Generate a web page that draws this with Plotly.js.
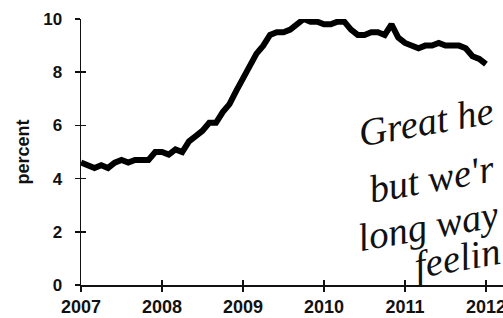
<!DOCTYPE html>
<html><head><meta charset="utf-8">
<script src="https://cdn.plot.ly/plotly-3.0.1.min.js"></script>
<style>html,body{margin:0;padding:0;background:#fff;overflow:hidden}#chart{width:503px;height:318px}</style>
</head><body><div id="chart"></div>
<script>
// Monthly unemployment rate, Jan 2007 - Jan 2012
const rates2007 = [4.6,4.5,4.4,4.5,4.4,4.6,4.7,4.6,4.7,4.7,4.7,5.0];
const rates2008 = [5.0,4.9,5.1,5.0,5.4,5.6,5.8,6.1,6.1,6.5,6.8,7.3];
const rates2009 = [7.8,8.3,8.7,9.0,9.4,9.5,9.5,9.6,9.8,10.0,9.9,9.9];
const rates2010 = [9.8,9.8,9.9,9.9,9.6,9.4,9.4,9.5,9.5,9.4,9.8,9.3];
const rates2011 = [9.1,9.0,8.9,9.0,9.0,9.1,9.0,9.0,9.0,8.9,8.6,8.5];
const rates2012 = [8.3];
const allYears = [2007, 2008, 2009, 2010, 2011, 2012];
const xTicks = [2007, 2008, 2009, 2010, 2011, 2012];
const yTicks = [0, 2, 4, 6, 8, 10];
const noteLines = ["Great he", "but we'r", "long way", "feelin"];

const allRates = [rates2007, rates2008, rates2009, rates2010, rates2011, rates2012];
const xs = [], ys = [];
allRates.forEach((arr, i) => arr.forEach((v, m) => { xs.push(allYears[i] + m / 12); ys.push(v); }));

const tickFont = {family: 'Liberation Sans, Arial, sans-serif', size: 17, color: '#111', weight: 700};
const line = {x: xs, y: ys, mode: 'lines', line: {color: '#000', width: 6}, hoverinfo: 'skip', showlegend: false};
const ghost = {x: xs, y: ys, xaxis: 'x2', yaxis: 'y2', mode: 'lines', line: {color: 'rgba(0,0,0,0)', width: 0}, hoverinfo: 'skip', showlegend: false};

const xr = [2007, 2012.21];
const yr = [0, 10];
const common = {showgrid: false, zeroline: false, showline: true, linecolor: '#111', linewidth: 1.5, tickcolor: '#111', tickwidth: 1.5, ticklen: 5};

const pw = 422, ph = 266;
const px = v => (v - 81) / pw, py = v => (285 - v) / ph;
const notePos = [[353, 122], [363, 178], [352, 226], [409, 258]];
const annotations = noteLines.map((t, i) => ({
  text: t, xref: 'paper', yref: 'paper', x: px(notePos[i][0]), y: py(notePos[i][1]),
  xanchor: 'left', yanchor: 'middle', showarrow: false, textangle: -10,
  font: {family: 'Liberation Serif, serif', size: 39, style: 'italic', color: '#111'}
}));

const layout = {
  width: 503, height: 318,
  margin: {l: 81, r: 0, t: 19, b: 33, pad: 0},
  paper_bgcolor: '#fff', plot_bgcolor: '#fff',
  xaxis: Object.assign({}, common, {range: xr, tickvals: xTicks, ticktext: xTicks.map(String), ticks: 'outside', ticklabeloverflow: 'allow', tickfont: Object.assign({}, tickFont, {size: 18}), ticklabelstandoff: 0}),
  yaxis: Object.assign({}, common, {range: yr, tickvals: yTicks, ticks: 'outside', tickfont: tickFont, ticklabelstandoff: 9,
    title: {text: 'percent', font: {family: 'Liberation Sans, Arial, sans-serif', size: 18, color: '#111', weight: 700}, standoff: 9}}),
  xaxis2: Object.assign({}, common, {range: xr, tickvals: xTicks, ticks: 'inside', showticklabels: false, overlaying: 'x', anchor: 'y2'}),
  yaxis2: Object.assign({}, common, {range: yr, tickvals: yTicks, ticks: 'inside', showticklabels: false, overlaying: 'y', anchor: 'x2'}),
  annotations: annotations
};
Plotly.newPlot('chart', [line, ghost], layout, {staticPlot: true, displayModeBar: false});
</script></body></html>
